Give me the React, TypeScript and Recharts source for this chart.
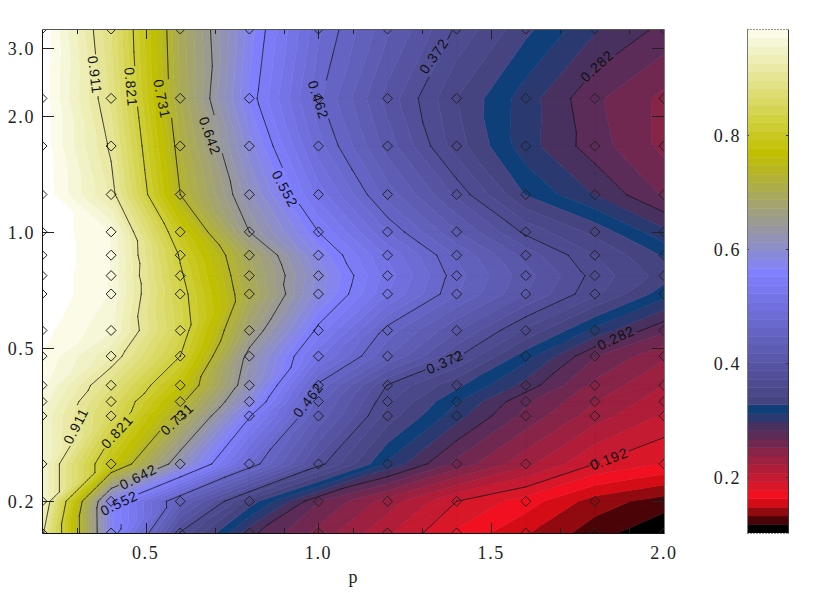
import React from 'react';
import { ScatterChart, Scatter, XAxis, YAxis } from 'recharts';

const P_VALUES = [0.2, 0.4, 0.6, 0.8, 1.0, 1.2, 1.4, 1.6, 1.8, 2.0];
const Q_VALUES = [3.36, 2.22, 1.67, 1.25, 1.0, 0.87, 0.77, 0.69, 0.555, 0.476, 0.4, 0.363, 0.333, 0.25, 0.2, 0.1655];

const row00 = [1.0, 0.88, 0.695, 0.574, 0.48, 0.42, 0.369, 0.331, 0.299, 0.278];
const row01 = [0.997, 0.891, 0.701, 0.563, 0.465, 0.396, 0.342, 0.304, 0.27, 0.248];
const row02 = [0.998, 0.906, 0.716, 0.588, 0.483, 0.41, 0.349, 0.303, 0.274, 0.248];
const row03 = [1.0, 0.922, 0.731, 0.614, 0.515, 0.44, 0.383, 0.326, 0.296, 0.265];
const row04 = [1.0, 0.969, 0.79, 0.642, 0.552, 0.476, 0.418, 0.368, 0.337, 0.301];
const row05 = [1.0, 0.971, 0.817, 0.686, 0.578, 0.504, 0.445, 0.396, 0.357, 0.325];
const row06 = [1.0, 0.969, 0.827, 0.696, 0.592, 0.514, 0.453, 0.408, 0.366, 0.335];
const row07 = [1.0, 0.969, 0.836, 0.703, 0.587, 0.507, 0.448, 0.402, 0.36, 0.318];
const row08 = [0.992, 0.958, 0.843, 0.667, 0.545, 0.455, 0.403, 0.354, 0.307, 0.27];
const row09 = [0.985, 0.928, 0.821, 0.63, 0.51, 0.433, 0.374, 0.318, 0.268, 0.24];
const row10 = [0.975, 0.884, 0.774, 0.615, 0.458, 0.371, 0.331, 0.291, 0.248, 0.222];
const row11 = [0.965, 0.864, 0.741, 0.589, 0.438, 0.359, 0.313, 0.27, 0.238, 0.213];
const row12 = [0.955, 0.854, 0.713, 0.555, 0.428, 0.35, 0.303, 0.262, 0.229, 0.205];
const row13 = [0.955, 0.78, 0.615, 0.477, 0.379, 0.309, 0.262, 0.227, 0.192, 0.176];
const row14 = [0.955, 0.57, 0.435, 0.336, 0.268, 0.23, 0.192, 0.17, 0.14, 0.125];
const row15 = [0.92, 0.572, 0.37, 0.287, 0.247, 0.21, 0.175, 0.149, 0.124, 0.104];
const GRID = [row00, row01, row02, row03, row04, row05, row06, row07, row08, row09, row10, row11, row12, row13, row14, row15];

const PALETTE = [
  '#000000', '#4a0408', '#900a10', '#d40c16', '#f01020', '#d81828', '#c41a32', '#b01d38', '#9c2040', '#872448',
  '#702850', '#5c2c58', '#48305f', '#2a3a70', '#0f3f78', '#464480', '#4a4889', '#4e4c91', '#525099', '#5654a2',
  '#5a58aa', '#5e5cb3', '#6160bb', '#6564c4', '#6968cc', '#6d6cd5', '#716fdd', '#7574e6', '#7978ee', '#7d7cf7',
  '#8080ff', '#8585ed', '#8989db', '#8e8ec9', '#9292b7', '#9797a4', '#9b9b92', '#a0a080', '#a4a46e', '#a9a95b',
  '#adad49', '#b2b237', '#b6b625', '#bbbb12', '#c0c000', '#c4c411', '#c8c821', '#cdcd32', '#d1d142', '#d5d553',
  '#d9d964', '#dddd74', '#e1e185', '#e5e595', '#eaeaa6', '#eeeeb7', '#f2f2c7', '#f6f6d8', '#fbfbe8',
];
const LEVEL_MIN = 0.1024;
const LEVEL_STEP = 0.01497;

const CONTOUR_LEVELS = [0.192, 0.282, 0.372, 0.462, 0.552, 0.642, 0.731, 0.821, 0.911];
const CONTOUR_LABELS = [
  { level: 0.911, x: 0.353, y: 2.554, angle: 83 },
  { level: 0.821, x: 0.4575, y: 2.377, angle: 85 },
  { level: 0.731, x: 0.547, y: 2.213, angle: 79 },
  { level: 0.642, x: 0.686, y: 1.775, angle: 70 },
  { level: 0.552, x: 0.903, y: 1.293, angle: 62 },
  { level: 0.462, x: 1.0, y: 2.2, angle: 72 },
  { level: 0.372, x: 1.334, y: 2.86, angle: -55 },
  { level: 0.282, x: 1.806, y: 2.695, angle: -43 },
  { level: 0.911, x: 0.298, y: 0.314, angle: -63 },
  { level: 0.821, x: 0.417, y: 0.303, angle: -47 },
  { level: 0.731, x: 0.591, y: 0.327, angle: -43 },
  { level: 0.642, x: 0.478, y: 0.2314, angle: -27 },
  { level: 0.552, x: 0.423, y: 0.198, angle: -26 },
  { level: 0.462, x: 0.97, y: 0.3666, angle: -52 },
  { level: 0.372, x: 1.366, y: 0.46, angle: -24 },
  { level: 0.282, x: 1.861, y: 0.531, angle: -25 },
  { level: 0.192, x: 1.841, y: 0.2577, angle: -21 },
];

const X_TICKS = [0.3, 0.5, 0.7, 0.9, 1.0, 1.1, 1.3, 1.5, 1.7, 1.9];
const X_LABELS = [0.5, 1.0, 1.5, 2.0];
const Y_TICKS = [0.2, 0.5, 1.0, 2.0, 3.0];
const BAR_TICKS = [0.2, 0.4, 0.6, 0.8];

type V = { x: number; u: number; v: number };
const FONT = '"Liberation Serif", serif';
const X_DOMAIN: [number, number] = [0.2, 2.0];
const Y_DOMAIN: [number, number] = [0.1655, 3.36];

function triangles(): V[][] {
  const out: V[][] = [];
  for (let r = 0; r < GRID.length - 1; r++) {
    for (let c = 0; c < P_VALUES.length - 1; c++) {
      const n = (i: number, j: number): V => ({ x: P_VALUES[j], u: Math.log10(Q_VALUES[i]), v: GRID[i][j] });
      const a = n(r, c), b = n(r, c + 1), d = n(r + 1, c + 1), e = n(r + 1, c);
      if (Math.abs(a.v - d.v) <= Math.abs(b.v - e.v)) {
        out.push([a, b, d], [a, d, e]);
      } else {
        out.push([a, b, e], [b, d, e]);
      }
    }
  }
  return out;
}
const TRIS = triangles();

const lerpV = (a: V, b: V, t: number): V => ({ x: a.x + (b.x - a.x) * t, u: a.u + (b.u - a.u) * t, v: a.v + (b.v - a.v) * t });

function clip(poly: V[], limit: number, keepAbove: boolean): V[] {
  const res: V[] = [];
  const inside = (p: V) => (keepAbove ? p.v >= limit : p.v <= limit);
  for (let i = 0; i < poly.length; i++) {
    const a = poly[i], b = poly[(i + 1) % poly.length];
    if (inside(a)) res.push(a);
    if (inside(a) !== inside(b)) res.push(lerpV(a, b, (limit - a.v) / (b.v - a.v)));
  }
  return res;
}

const toDatum = (p: V) => ({ x: p.x, y: Math.pow(10, p.u) });

const BANDS = PALETTE.map((color, i) => {
  const lo = i === 0 ? -1 : LEVEL_MIN + LEVEL_STEP * i;
  const hi = LEVEL_MIN + LEVEL_STEP * (i + 1);
  const points: { x: number; y: number }[] = [];
  const lengths: number[] = [];
  TRIS.forEach((t) => {
    const poly = clip(clip(t, lo, true), hi, false);
    if (poly.length >= 3) {
      lengths.push(poly.length);
      poly.forEach((p) => points.push(toDatum(p)));
    }
  });
  return { color, points, lengths };
});

const CONTOURS = CONTOUR_LEVELS.map((level) => {
  const points: { x: number; y: number }[] = [];
  TRIS.forEach((t) => {
    const cross: V[] = [];
    for (let i = 0; i < 3; i++) {
      const a = t[i], b = t[(i + 1) % 3];
      if ((a.v >= level) !== (b.v >= level)) cross.push(lerpV(a, b, (level - a.v) / (b.v - a.v)));
    }
    if (cross.length === 2) {
      points.push(toDatum(cross[0]), toDatum(cross[1]));
    }
  });
  const segmentPoints = points.length;
  CONTOUR_LABELS.filter((l) => l.level === level).forEach((l) => points.push({ x: l.x, y: l.y }));
  return { level, points, segmentPoints };
});

const DIAMONDS = Q_VALUES.flatMap((y) => P_VALUES.map((x) => ({ x, y })));

const noShape = () => <g />;

const bandLine = (color: string, lengths: number[]) => (props: any) => {
  const pts = props.points;
  let d = '';
  let k = 0;
  lengths.forEach((len) => {
    for (let i = 0; i < len; i++, k++) d += `${i === 0 ? 'M' : 'L'}${pts[k].x} ${pts[k].y}`;
    d += 'Z';
  });
  return <path d={d} fill={color} stroke={color} strokeWidth={0.6} strokeLinejoin="round" />;
};

const GAP_RADIUS = 21;
const contourLine = (count: number) => (props: any) => {
  const pts = props.points;
  const centers = pts.slice(count);
  let d = '';
  for (let s = 0; s + 1 < count; s += 2) {
    const a = pts[s], b = pts[s + 1];
    const len = Math.hypot(b.x - a.x, b.y - a.y);
    const n = Math.max(1, Math.ceil(len));
    let pen = false;
    for (let i = 0; i <= n; i++) {
      const x = a.x + ((b.x - a.x) * i) / n;
      const y = a.y + ((b.y - a.y) * i) / n;
      const hidden = centers.some((c: any) => Math.hypot(c.x - x, c.y - y) < GAP_RADIUS);
      if (hidden) {
        pen = false;
      } else {
        d += `${pen ? 'L' : 'M'}${x.toFixed(2)} ${y.toFixed(2)}`;
        pen = true;
      }
    }
  }
  return <path d={d} fill="none" stroke="#111" strokeWidth={0.85} strokeLinecap="round" />;
};

const diamondShape = (props: any) => {
  const { cx, cy } = props;
  return <path d={`M${cx} ${cy - 5}L${cx + 5} ${cy}L${cx} ${cy + 5}L${cx - 5} ${cy}Z`} fill="none" stroke="#222" strokeWidth={1} />;
};

const labelShape = (props: any) => {
  const { cx, cy, payload } = props;
  return (
    <text
      x={cx}
      y={cy}
      transform={`rotate(${payload.angle} ${cx} ${cy})`}
      textAnchor="middle"
      dominantBaseline="central"
      fontFamily='"Liberation Sans", sans-serif'
      fontSize={14}
      letterSpacing={0.9}
      fill="#111"
    >
      {payload.level.toFixed(3)}
    </text>
  );
};

const bottomLabel = (props: any) => {
  const { x, y, payload } = props;
  return (
    <text x={x} y={y + 20} textAnchor="middle" dominantBaseline="central" fontFamily={FONT} fontSize={18} letterSpacing={1.6} fill="#222">
      {payload.value.toFixed(1)}
    </text>
  );
};
const leftLabel = (offset: number) => (props: any) => {
  const { x, y, payload } = props;
  return (
    <text x={x - offset} y={y + 1} textAnchor="end" dominantBaseline="central" fontFamily={FONT} fontSize={18} letterSpacing={1.6} fill="#222">
      {payload.value.toFixed(1)}
    </text>
  );
};

const tickShape = (dx: number, dy: number, color: string) => (props: any) => {
  const { cx, cy, payload } = props;
  const len = payload.len;
  const px = Math.round(cx) + 0.5;
  const py = Math.round(cy) + 0.5;
  return <line x1={dx ? cx : px} y1={dy ? cy : py} x2={dx ? cx + dx * len : px} y2={dy ? cy + dy * len : py} stroke={color} strokeWidth={1} />;
};

const edgeLine = (color: string, dashed?: boolean) => (props: any) => {
  const [a, b] = props.points;
  return (
    <line
      x1={Math.floor(a.x) + 0.5}
      y1={Math.floor(a.y) + 0.5}
      x2={Math.floor(b.x) + 0.5}
      y2={Math.floor(b.y) + 0.5}
      stroke={color}
      strokeWidth={1}
      strokeDasharray={dashed ? '1 2' : undefined}
    />
  );
};

const [XL, XR] = X_DOMAIN;
const [YB, YT] = Y_DOMAIN;
const FRAME_LEFT = [{ x: XL, y: YB }, { x: XL, y: YT }];
const FRAME_BOTTOM = [{ x: XL, y: YB }, { x: XR, y: YB }];
const FRAME_TOP = [{ x: XL, y: YT }, { x: XR, y: YT }];
const FRAME_RIGHT = [{ x: XR, y: YB }, { x: XR, y: YT }];
const xLen = (x: number) => (X_LABELS.includes(x) ? 10 : 5);
const TICKS_BOTTOM = X_TICKS.map((x) => ({ x, y: YB, len: xLen(x) }));
const TICKS_TOP = X_TICKS.map((x) => ({ x, y: YT, len: xLen(x) }));
const TICKS_LEFT = Y_TICKS.map((y) => ({ x: XL, y, len: 12 }));
const TICKS_RIGHT = Y_TICKS.map((y) => ({ x: XR, y, len: 12 }));

const BAR_DOMAIN: [number, number] = [LEVEL_MIN, LEVEL_MIN + LEVEL_STEP * PALETTE.length];
const BAR_RECTS = PALETTE.map((color, i) => {
  const lo = LEVEL_MIN + LEVEL_STEP * i;
  const hi = LEVEL_MIN + LEVEL_STEP * (i + 1);
  return { color, points: [{ x: 0, y: lo }, { x: 1, y: lo }, { x: 1, y: hi }, { x: 0, y: hi }] };
});
const BAR_TOP_EDGE = [{ x: 0, y: BAR_DOMAIN[1] }, { x: 1, y: BAR_DOMAIN[1] }];
const BAR_BOTTOM_EDGE = [{ x: 0, y: BAR_DOMAIN[0] }, { x: 1, y: BAR_DOMAIN[0] }];
const BAR_LEFT_EDGE = [{ x: 0, y: BAR_DOMAIN[0] }, { x: 0, y: BAR_DOMAIN[1] }];
const BAR_RIGHT_EDGE = [{ x: 1, y: BAR_DOMAIN[0] }, { x: 1, y: BAR_DOMAIN[1] }];
const BAR_TICKS_LEFT = BAR_TICKS.map((y) => ({ x: 0, y, len: 2 }));
const BAR_TICKS_RIGHT = BAR_TICKS.map((y) => ({ x: 1, y, len: 2 }));

const layer: React.CSSProperties = { position: 'absolute', left: 0, top: 0 };
const barLayer: React.CSSProperties = { position: 'absolute', left: 700, top: 0 };
const common = { isAnimationActive: false, legendType: 'none' as const };

export default function App() {
  return (
    <div style={{ position: 'absolute', left: 0, top: 0, width: 830, height: 593, background: '#fff' }}>
      <div style={layer}>
        <ScatterChart width={830} height={593} margin={{ left: 42, right: 166, top: 29, bottom: 60 }}>
          <XAxis type="number" dataKey="x" domain={X_DOMAIN} allowDataOverflow hide height={0} />
          <YAxis type="number" dataKey="y" scale="log" domain={Y_DOMAIN} allowDataOverflow hide width={0} />
          {BANDS.map((b, i) => (
            <Scatter key={`band${i}`} data={b.points} line={bandLine(b.color, b.lengths)} shape={noShape} {...common} />
          ))}
          {CONTOURS.map((c) => (
            <Scatter key={`c${c.level}`} data={c.points} line={contourLine(c.segmentPoints)} shape={noShape} {...common} />
          ))}
          <Scatter data={DIAMONDS} shape={diamondShape} {...common} />
          <Scatter data={CONTOUR_LABELS} shape={labelShape} {...common} />
        </ScatterChart>
      </div>
      <div style={layer}>
        <ScatterChart width={830} height={593} margin={{ left: 0, right: 166, top: 29, bottom: 0 }}>
          <XAxis type="number" dataKey="x" domain={X_DOMAIN} ticks={X_LABELS} interval={0} height={60} tickSize={0} tickMargin={0} tick={bottomLabel} axisLine={false} />
          <YAxis type="number" dataKey="y" scale="log" domain={Y_DOMAIN} ticks={Y_TICKS} interval={0} width={42} tickSize={0} tickMargin={0} tick={leftLabel(7)} axisLine={false} />
          <Scatter data={TICKS_BOTTOM} shape={tickShape(0, -1, '#222')} {...common} />
          <Scatter data={TICKS_TOP} shape={tickShape(0, 1, '#222')} {...common} />
          <Scatter data={TICKS_LEFT} shape={tickShape(1, 0, '#222')} {...common} />
          <Scatter data={TICKS_RIGHT} shape={tickShape(-1, 0, '#222')} {...common} />
          <Scatter data={FRAME_TOP} line={edgeLine('#555')} shape={noShape} {...common} />
          <Scatter data={FRAME_RIGHT} line={edgeLine('#777')} shape={noShape} {...common} />
          <Scatter data={FRAME_LEFT} line={edgeLine('#111')} shape={noShape} {...common} />
          <Scatter data={FRAME_BOTTOM} line={edgeLine('#111')} shape={noShape} {...common} />
        </ScatterChart>
      </div>
      <div style={{ position: 'absolute', left: 353, top: 577, transform: 'translate(-50%,-50%)', fontFamily: FONT, fontSize: 18, color: '#222', lineHeight: 1 }}>p</div>
      <div style={barLayer}>
        <ScatterChart width={100} height={593} margin={{ left: 47, right: 12, top: 29, bottom: 60 }}>
          <XAxis type="number" dataKey="x" domain={[0, 1]} allowDataOverflow hide height={0} />
          <YAxis type="number" dataKey="y" domain={BAR_DOMAIN} allowDataOverflow hide width={0} />
          {BAR_RECTS.map((b, i) => (
            <Scatter key={`rect${i}`} data={b.points} line={bandLine(b.color, [4])} shape={noShape} {...common} />
          ))}
        </ScatterChart>
      </div>
      <div style={barLayer}>
        <ScatterChart width={100} height={593} margin={{ left: 0, right: 12, top: 29, bottom: 60 }}>
          <XAxis type="number" dataKey="x" domain={[0, 1]} hide height={0} />
          <YAxis type="number" dataKey="y" domain={BAR_DOMAIN} ticks={BAR_TICKS} interval={0} width={47} tickSize={0} tickMargin={0} tick={leftLabel(6)} axisLine={false} />
          <Scatter data={BAR_TICKS_LEFT} shape={tickShape(1, 0, '#333')} {...common} />
          <Scatter data={BAR_TICKS_RIGHT} shape={tickShape(-1, 0, '#333')} {...common} />
          <Scatter data={BAR_LEFT_EDGE} line={edgeLine('#777')} shape={noShape} {...common} />
          <Scatter data={BAR_RIGHT_EDGE} line={edgeLine('#333')} shape={noShape} {...common} />
          <Scatter data={BAR_TOP_EDGE} line={edgeLine('#333', true)} shape={noShape} {...common} />
          <Scatter data={BAR_BOTTOM_EDGE} line={edgeLine('#333', true)} shape={noShape} {...common} />
        </ScatterChart>
      </div>
    </div>
  );
}
